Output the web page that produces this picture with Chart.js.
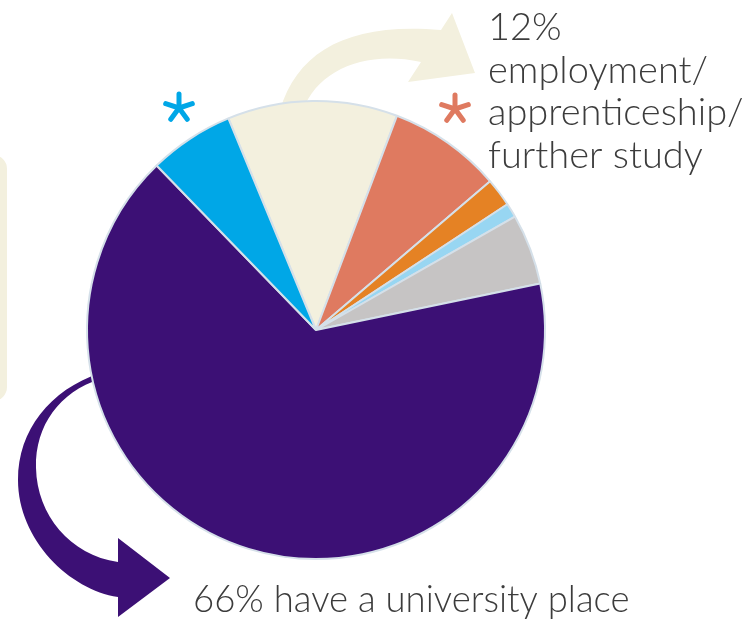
<!DOCTYPE html>
<html>
<head>
<meta charset="utf-8">
<script src="https://cdn.jsdelivr.net/npm/chart.js@4/dist/chart.umd.min.js"></script>
<style>
  html, body { margin: 0; padding: 0; background: #ffffff; }
  #wrap { position: relative; width: 748px; height: 620px; }
</style>
</head>
<body>
<div id="wrap"><canvas id="c" width="748" height="620"></canvas></div>
<script>
// Destinations of leavers, clockwise from the employment slice
const categories = [
  'Employment / apprenticeship / further study',
  'Other destination (*)',
  'Other destination',
  'Other destination',
  'Other destination',
  'University place',
  'Other destination (*)'
];
const shares = [12, 8, 2, 1, 5, 66, 6];

const sliceColors = ['#f3f0de', '#df7a60', '#e58224', '#98d6f2', '#c6c4c4', '#3c1075', '#00a7e7'];
const TEXT_COLOR = '#3c3c3c';
const FONT_SIDE = '300 38px Lato, "Open Sans", sans-serif';
const FONT_BOTTOM = '300 36.5px Lato, "Open Sans", sans-serif';

function asterisk(ctx, cx, cy, len, color) {
  ctx.save();
  ctx.strokeStyle = color;
  ctx.lineWidth = 5;
  ctx.lineCap = 'round';
  for (let i = 0; i < 5; i++) {
    const a = -Math.PI / 2 + i * 2 * Math.PI / 5;
    ctx.beginPath();
    ctx.moveTo(cx, cy);
    ctx.lineTo(cx + len * Math.cos(a), cy + len * Math.sin(a));
    ctx.stroke();
  }
  ctx.restore();
}

const decor = {
  id: 'decor',
  beforeDatasetsDraw(chart) {
    const ctx = chart.ctx;
    ctx.save();

    // side panel peeking in from the left
    ctx.fillStyle = '#f3f0de';
    ctx.beginPath();
    ctx.roundRect(-30, 155, 37, 246, 14);
    ctx.fill();

    // curved arrow leaving the employment slice
    ctx.fillStyle = sliceColors[0];
    ctx.beginPath();
    ctx.moveTo(280, 110);
    ctx.bezierCurveTo(298, 50, 350, 22, 441, 30);
    ctx.lineTo(452, 13);
    ctx.lineTo(475, 73);
    ctx.lineTo(408, 82);
    ctx.lineTo(421, 62);
    ctx.bezierCurveTo(365, 50, 318, 70, 303, 110);
    ctx.closePath();
    ctx.fill();

    // curved arrow leaving the university slice
    ctx.fillStyle = sliceColors[5];
    ctx.beginPath();
    ctx.moveTo(100, 373);
    ctx.bezierCurveTo(50, 390, 18, 430, 18, 480);
    ctx.bezierCurveTo(18, 540, 70, 590, 118, 597);
    ctx.lineTo(118, 617);
    ctx.lineTo(170, 578);
    ctx.lineTo(118, 538);
    ctx.lineTo(118, 562);
    ctx.bezierCurveTo(70, 555, 37, 515, 36, 468);
    ctx.bezierCurveTo(35, 425, 60, 392, 100, 379);
    ctx.closePath();
    ctx.fill();

    ctx.restore();
  },
  afterDatasetsDraw(chart) {
    const ctx = chart.ctx;
    asterisk(ctx, 179, 108, 14, sliceColors[6]);
    asterisk(ctx, 455, 109, 14, sliceColors[1]);

    ctx.save();
    ctx.fillStyle = TEXT_COLOR;
    ctx.textBaseline = 'alphabetic';
    ctx.textAlign = 'left';
    ctx.font = FONT_SIDE;
    const lines = [shares[0] + '%', 'employment/', 'apprenticeship/', 'further study'];
    lines.forEach((t, i) => ctx.fillText(t, 488, 40 + i * 42.5));
    ctx.font = FONT_BOTTOM;
    ctx.fillText(shares[5] + '% have a university place', 193, 612);
    ctx.restore();
  }
};

function draw() {
  new Chart(document.getElementById('c'), {
    type: 'pie',
    data: {
      labels: categories,
      datasets: [{
        data: shares,
        backgroundColor: sliceColors,
        borderColor: '#d5e0e9',
        borderWidth: 2,
        hoverOffset: 0
      }]
    },
    options: {
      responsive: false,
      animation: false,
      events: [],
      rotation: -22.5,
      radius: 229,
      layout: { padding: { left: 0, right: 116, top: 40, bottom: 0 } },
      plugins: { legend: { display: false }, tooltip: { enabled: false } }
    },
    plugins: [decor]
  });
}

Promise.all([document.fonts.load(FONT_SIDE), document.fonts.load(FONT_BOTTOM)]).then(draw, draw);
</script>
</body>
</html>
